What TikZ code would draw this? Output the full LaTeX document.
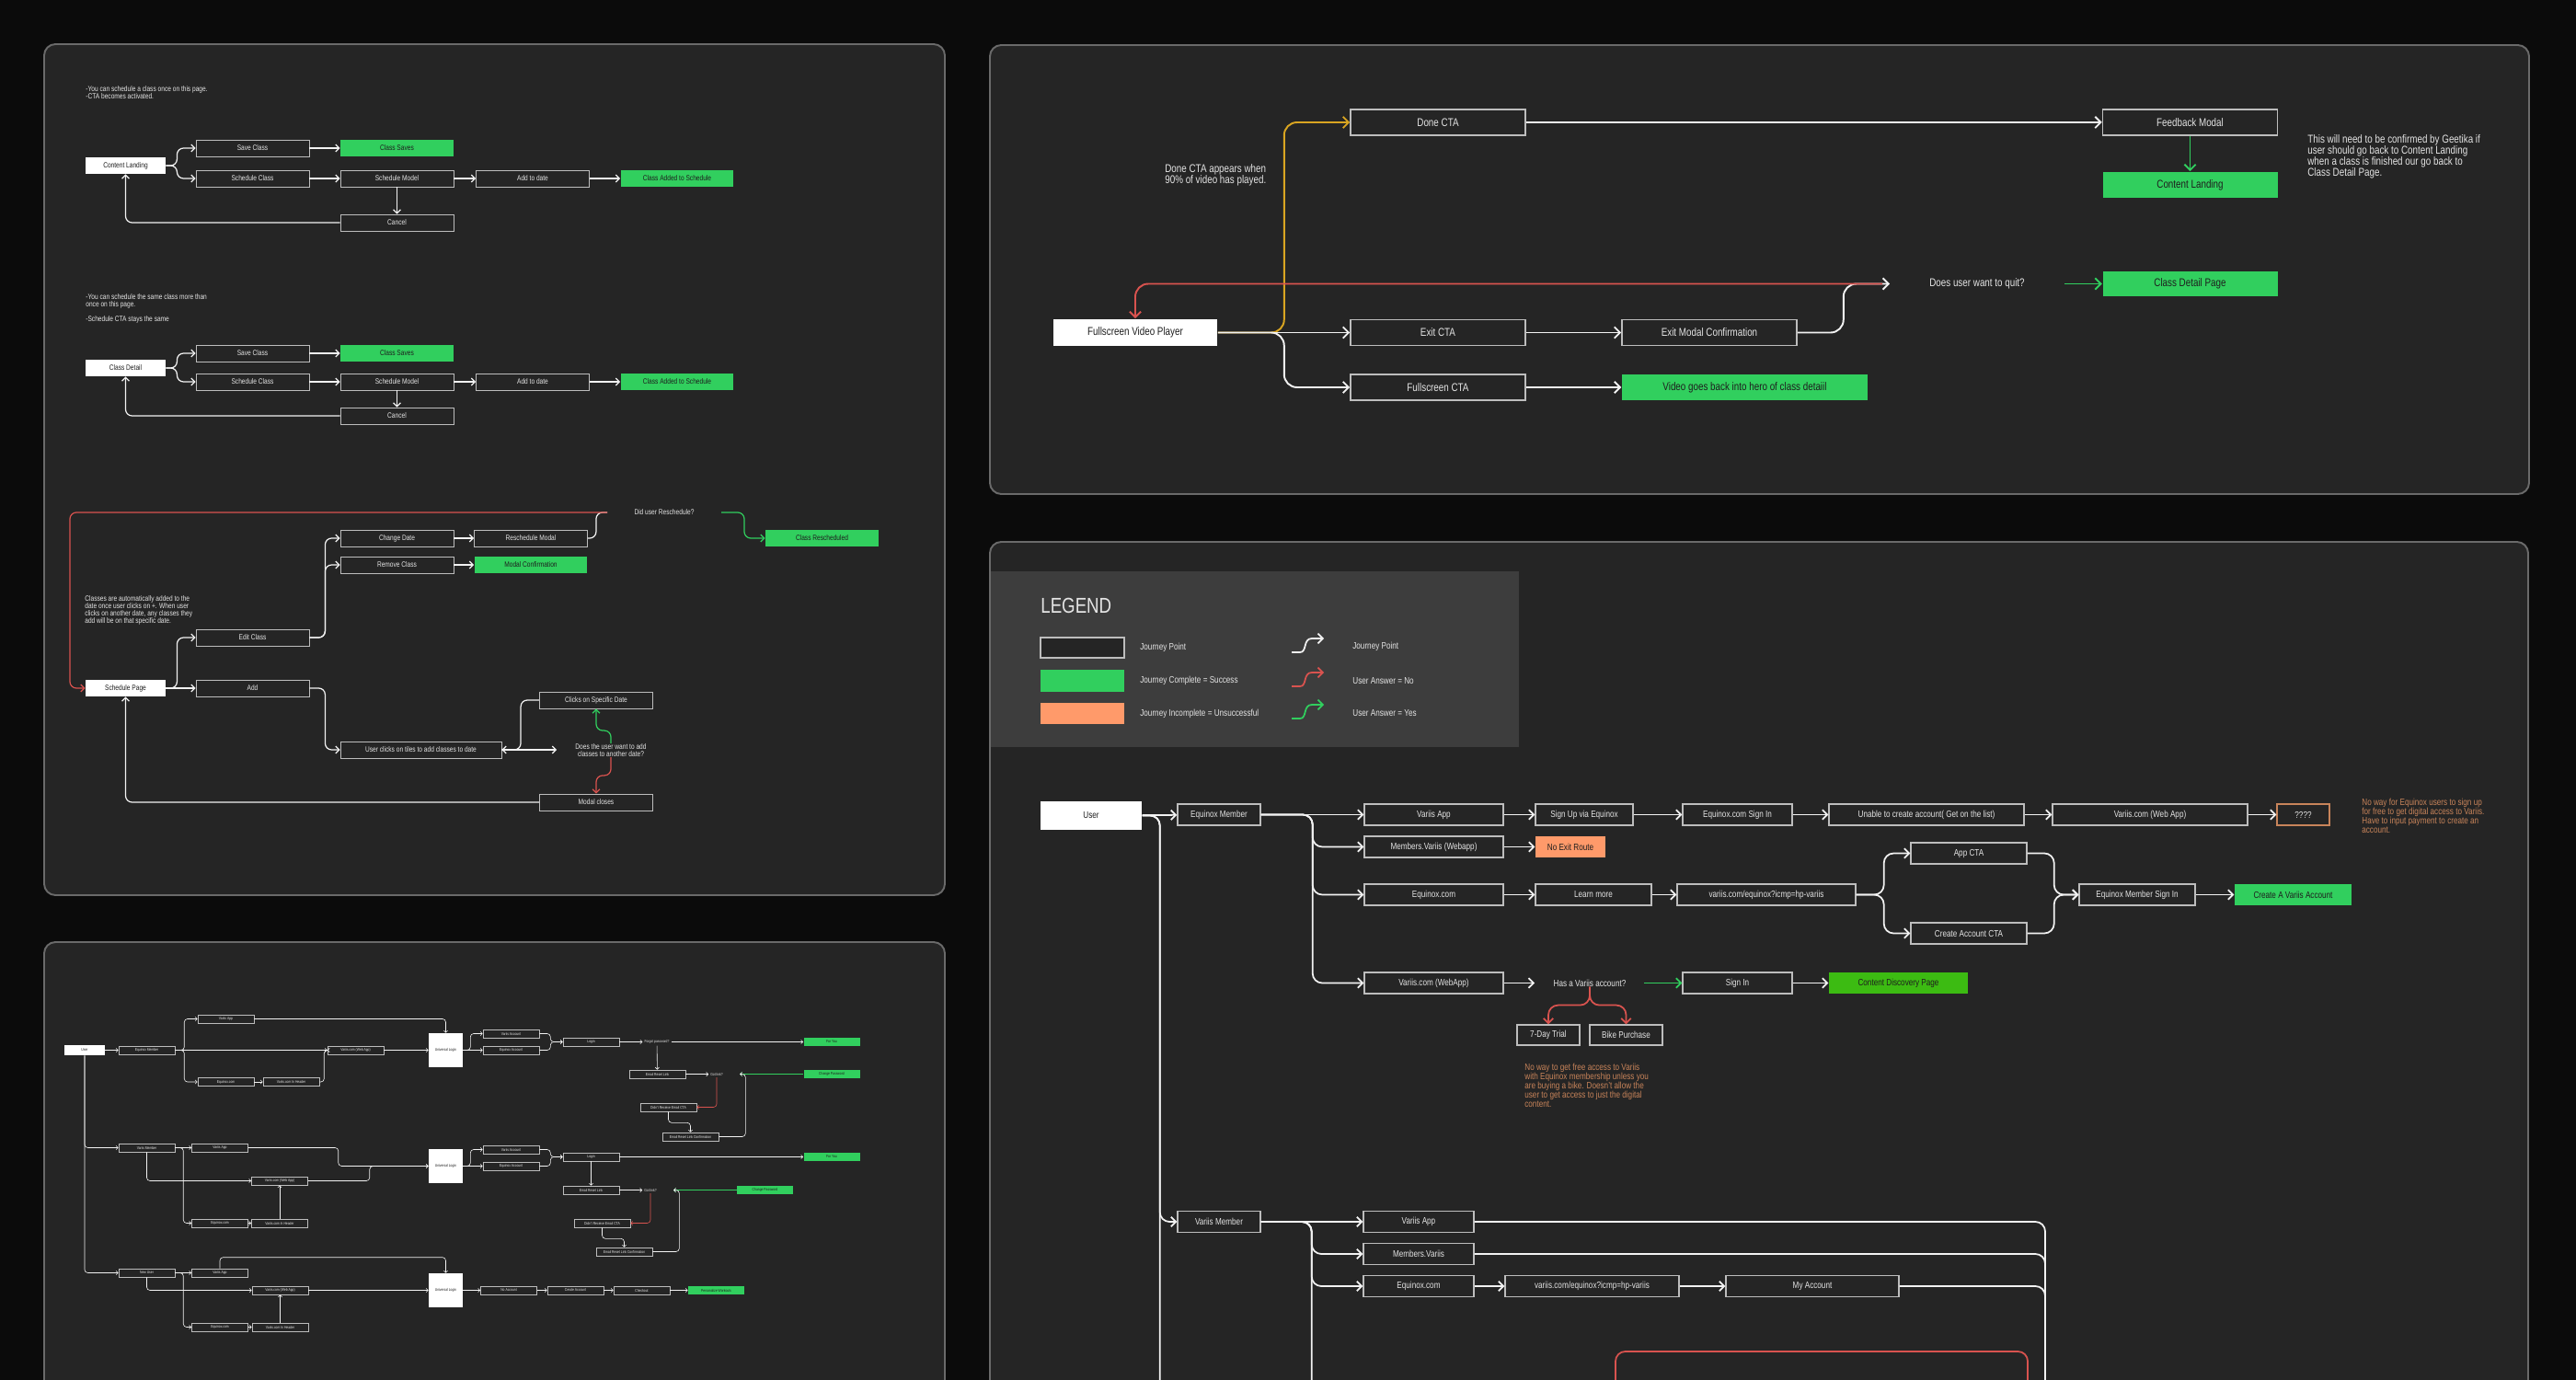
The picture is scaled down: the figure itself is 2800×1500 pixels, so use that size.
\documentclass[tikz,border=0pt]{standalone}
\usepackage{fontspec}
\setmainfont{Liberation Sans}[FakeStretch=0.8]
\usetikzlibrary{arrows.meta}

\definecolor{bgdark}{HTML}{0B0B0B}
\definecolor{panel}{HTML}{252525}
\definecolor{panelrim}{HTML}{6A6A6A}
\definecolor{legendbg}{HTML}{3D3D3D}
\definecolor{boxline}{HTML}{BDBDBD}
\definecolor{wirewhite}{HTML}{F2F2F2}
\definecolor{okgreen}{HTML}{31CF5E}
\definecolor{okgreentwo}{HTML}{3CBB12}
\definecolor{failorange}{HTML}{FF9A6A}
\definecolor{notebrown}{HTML}{C8845A}
\definecolor{nored}{HTML}{D9534F}
\definecolor{amber}{HTML}{D9A521}
\definecolor{inktext}{HTML}{E4E4E4}
\definecolor{darkink}{HTML}{1E1E1E}

\newcommand\fsA{\fontsize{4.7}{4.6}\selectfont}
\newcommand\fsB{\fontsize{2.4}{2.6}\selectfont}
\newcommand\fsC{\fontsize{7}{6.8}\selectfont}
\newcommand\fsD{\fontsize{5.8}{5.7}\selectfont}
\newcommand\fsTitle{\fontsize{13.3}{14}\selectfont}

\tikzset{
  journey/.style={draw=boxline, fill=panel, inner sep=0pt, text=inktext},
  success/.style={fill=okgreen, inner sep=0pt, text=darkink},
  whitebox/.style={fill=white, inner sep=0pt, text=darkink},
  failbox/.style={fill=failorange, inner sep=0pt, text=darkink},
  note/.style={inner sep=0pt, text=inktext, align=left},
  sizeA/.style={minimum width=2.46cm, minimum height=0.36cm, font=\fsA, line width=0.5pt},
  sizeB/.style={minimum width=1.22cm, minimum height=0.18cm, font=\fsB, line width=0.35pt},
  sizeC/.style={minimum width=3.8cm, minimum height=0.56cm, font=\fsC, line width=0.9pt},
  sizeD/.style={minimum width=3.02cm, minimum height=0.46cm, font=\fsD, line width=0.8pt},
  lineA/.style={draw=wirewhite, line width=0.7pt, rounded corners=4pt},
  wireA/.style={lineA, -{Straight Barb[length=2.2pt,width=4.4pt]}},
  lineB/.style={draw=wirewhite, line width=0.35pt, rounded corners=2pt},
  wireB/.style={lineB, -{Straight Barb[length=1.2pt,width=2.4pt]}},
  lineC/.style={draw=wirewhite, line width=1.1pt, rounded corners=8pt},
  wireC/.style={lineC, -{Straight Barb[length=3.5pt,width=7pt]}},
  lineD/.style={draw=wirewhite, line width=1pt, rounded corners=6pt},
  wireD/.style={lineD, -{Straight Barb[length=3pt,width=6pt]}}
}

\begin{document}
\begin{tikzpicture}[x=0.02cm, y=-0.02cm]
  \useasboundingbox (0,0) rectangle (2800,1500);
  % Page and the four panels
  \fill[bgdark] (0,0) rectangle (2800,1500);
  \clip (0,0) rectangle (2800,1500);
  \foreach \xa/\ya/\xb/\yb in {48/48/1027/973, 48/1024/1027/1560, 1076/49/2749/537, 1076/589/2748/1560}
    \draw[panelrim, fill=panel, line width=1.1pt, rounded corners=7pt] (\xa,\ya) rectangle (\xb,\yb);

  % ---------- Content Landing ----------
  \node[note, font=\fsA, anchor=north west] (aNoteOne) at (93,93) {-You can schedule a class once on this page.\\-CTA becomes activated.};
  \node[whitebox, sizeA, minimum width=1.74cm] (aCL) at (136.5,180) {Content Landing};
  \node[journey, sizeA] (aSave1) at (274.5,161) {Save Class};
  \node[success, sizeA] (aSaves1) at (431.5,161) {Class Saves};
  \node[journey, sizeA] (aSched1) at (274.5,194) {Schedule Class};
  \node[journey, sizeA] (aModal1) at (431.5,194) {Schedule Model};
  \node[journey, sizeA] (aDate1) at (579,194) {Add to date};
  \node[success, sizeA] (aAdded1) at (736,194) {Class Added to Schedule};
  \node[journey, sizeA] (aCancel1) at (431.5,242) {Cancel};

  % ---------- Class Detail ----------
  \node[note, font=\fsA, anchor=north west] (aNoteTwo) at (93,319) {-You can schedule the same class more than\\once on this page.\\[4.6pt]-Schedule CTA stays the same};
  \node[whitebox, sizeA, minimum width=1.74cm] (aCD) at (136.5,400) {Class Detail};
  \node[journey, sizeA] (aSave2) at (274.5,384) {Save Class};
  \node[success, sizeA] (aSaves2) at (431.5,384) {Class Saves};
  \node[journey, sizeA] (aSched2) at (274.5,415) {Schedule Class};
  \node[journey, sizeA] (aModal2) at (431.5,415) {Schedule Model};
  \node[journey, sizeA] (aDate2) at (579,415) {Add to date};
  \node[success, sizeA] (aAdded2) at (736,415) {Class Added to Schedule};
  \node[journey, sizeA] (aCancel2) at (431.5,452) {Cancel};

  \foreach \top/\sav/\sch/\can in {aCL/1/1/1, aCD/2/2/2} {
    \draw[wireA] (\top.east) -- ++(12,0) |- (aSave\sav.west);
    \draw[wireA] (\top.east) -- ++(12,0) |- (aSched\sch.west);
    \draw[wireA] (aCancel\can.west) -| (\top.south);
  }
  \foreach \p/\q in {aSave1/aSaves1, aSched1/aModal1, aModal1/aDate1, aDate1/aAdded1, aModal1/aCancel1,
                     aSave2/aSaves2, aSched2/aModal2, aModal2/aDate2, aDate2/aAdded2, aModal2/aCancel2}
    \draw[wireA] (\p) -- (\q);

  % ---------- Schedule Page ----------
  \node[note, font=\fsA] (aDid) at (722,557) {Did user Reschedule?};
  \coordinate (aDidIn) at (660,557);
  \coordinate (aDidOut) at (784,557);
  \node[success, sizeA] (aRescheduled) at (893.5,585) {Class Rescheduled};
  \node[journey, sizeA] (aChange) at (431.5,585) {Change Date};
  \node[journey, sizeA] (aRModal) at (577,585) {Reschedule Modal};
  \node[journey, sizeA] (aRemove) at (431.5,614) {Remove Class};
  \node[success, sizeA] (aConfirm) at (577,614) {Modal Confirmation};
  \node[note, font=\fsA, anchor=north west] (aNoteThree) at (92,647) {Classes are automatically added to the\\date once user clicks on +. When user\\clicks on another date, any classes they\\add will be on that specific date.};
  \node[journey, sizeA] (aEdit) at (274.5,693) {Edit Class};
  \node[whitebox, sizeA, minimum width=1.74cm] (aSP) at (136.5,748) {Schedule Page};
  \node[journey, sizeA] (aAdd) at (274.5,748) {Add};
  \node[journey, sizeA] (aSpecific) at (648,761) {Clicks on Specific Date};
  \node[journey, sizeA, minimum width=3.5cm] (aTiles) at (457.5,815) {User clicks on tiles to add classes to date};
  \node[note, font=\fsA, align=center] (aAnother) at (664,815.5) {Does the user want to add\\classes to another date?};
  \coordinate (aAnotherIn) at (605,815);
  \node[journey, sizeA] (aCloses) at (648,872) {Modal closes};

  \draw[wireA] (aSP.east) -- ++(12,0) |- (aEdit.west);
  \draw[wireA] (aSP) -- (aAdd);
  \draw[wireA] (aEdit.east) -- ++(17,0) |- (aChange.west);
  \draw[wireA] (aEdit.east) -- ++(17,0) |- (aRemove.west);
  \draw[wireA] (aChange) -- (aRModal);
  \draw[wireA] (aRemove) -- (aConfirm);
  \draw[lineA] (aRModal.east) -- ++(9,0) |- (aDidIn);
  \draw[wireA, draw=nored] (aDidIn) -- ++(-584,0) |- (aSP.west);
  \draw[wireA, draw=okgreen] (aDidOut) -- ++(25,0) |- (aRescheduled.west);
  \draw[wireA] (aAdd.east) -- ++(17,0) |- (aTiles.west);
  \draw[wireA] (aTiles.east) -- (aAnotherIn);
  \draw[wireA] (aSpecific.west) -- ++(-20,0) |- (aTiles.east);
  \draw[wireA, draw=okgreen] (aAnother.north) -- ++(0,-14) -| (aSpecific.south);
  \draw[wireA, draw=nored] (aAnother.south) -- ++(0,20) -| (aCloses.north);
  \draw[wireA] (aCloses.west) -| (aSP.south);

  % ---------- Login flows (small panel) ----------
  \node[whitebox, sizeB, minimum width=0.88cm, minimum height=0.22cm] (bUser) at (92,1141.5) {User};
  \node[journey, sizeB] (bEqM) at (159.5,1141.5) {Equinox Member};
  \node[journey, sizeB] (bVApp1) at (245.5,1107.5) {Variis App};
  \node[journey, sizeB] (bWeb1) at (386.5,1141.5) {Variis.com (Web App)};
  \node[journey, sizeB] (bEqc1) at (245.5,1176) {Equinox.com};
  \node[journey, sizeB] (bHdr1) at (316.5,1176) {Variis.com In Header};
  \node[whitebox, sizeB, minimum width=0.74cm, minimum height=0.74cm] (bUL1) at (484.5,1141.5) {Universal Login};
  \node[journey, sizeB] (bVAcc1) at (555.5,1123.5) {Variis Account};
  \node[journey, sizeB] (bEqAcc1) at (555.5,1141.5) {Equinox Account};
  \node[journey, sizeB] (bLogin1) at (642.5,1132.5) {Login};
  \node[note, font=\fsB, inner sep=1pt] (bForgot) at (714,1132.5) {Forgot password?};
  \node[success, sizeB] (bForYou1) at (904,1132.5) {For You};
  \node[journey, sizeB] (bReset1) at (714.5,1167.5) {Email Reset Link};
  \node[note, font=\fsB, inner sep=1pt] (bGot1) at (779,1167.5) {Got link?};
  \coordinate (bGotIn1) at (804,1167.5);
  \node[success, sizeB] (bChange1) at (904,1167.5) {Change Password};
  \node[journey, sizeB] (bDidnt1) at (726.5,1203.5) {Didn't Receive Email CTA};
  \node[journey, sizeB] (bConf1) at (750.5,1235.5) {Email Reset Link Confirmation};

  \node[journey, sizeB] (bVM) at (159.5,1247.5) {Variis Member};
  \node[journey, sizeB] (bVApp2) at (239,1247.5) {Variis App};
  \node[whitebox, sizeB, minimum width=0.74cm, minimum height=0.74cm] (bUL2) at (484.5,1267.5) {Universal Login};
  \node[journey, sizeB] (bVAcc2) at (555.5,1249.5) {Variis Account};
  \node[journey, sizeB] (bEqAcc2) at (555.5,1267.5) {Equinox Account};
  \node[journey, sizeB] (bLogin2) at (642.5,1257.5) {Login};
  \node[success, sizeB] (bForYou2) at (904,1257.5) {For You};
  \node[journey, sizeB] (bWeb2) at (304,1283.5) {Variis.com (Web App)};
  \node[journey, sizeB] (bReset2) at (642.5,1293.5) {Email Reset Link};
  \node[note, font=\fsB, inner sep=1pt] (bGot2) at (707,1293.5) {Got link?};
  \coordinate (bGotIn2) at (732,1293.5);
  \node[success, sizeB] (bChange2) at (831.5,1293.5) {Change Password};
  \node[journey, sizeB] (bEqc2) at (239,1329.5) {Equinox.com};
  \node[journey, sizeB] (bHdr2) at (304,1329.5) {Variis.com In Header};
  \node[journey, sizeB] (bDidnt2) at (654.5,1329.5) {Didn't Receive Email CTA};
  \node[journey, sizeB] (bConf2) at (678.5,1360.5) {Email Reset Link Confirmation};

  \node[journey, sizeB] (bNU) at (159.5,1383.5) {New User};
  \node[journey, sizeB] (bVApp3) at (239,1383.5) {Variis App};
  \node[whitebox, sizeB, minimum width=0.74cm, minimum height=0.74cm] (bUL3) at (484.5,1402.5) {Universal Login};
  \node[journey, sizeB] (bWeb3) at (304.5,1402.5) {Variis.com (Web App)};
  \node[journey, sizeB] (bNoAcc) at (553,1402.5) {No Account};
  \node[journey, sizeB] (bCreate) at (625.5,1402.5) {Create Account};
  \node[journey, sizeB] (bCheckout) at (697.5,1402.5) {Checkout};
  \node[success, sizeB] (bPersonal) at (778.5,1402.5) {Personalize Workouts};
  \node[journey, sizeB] (bEqc3) at (239,1442.5) {Equinox.com};
  \node[journey, sizeB] (bHdr3) at (304.5,1442.5) {Variis.com In Header};

  \draw[wireB] (bUser.south) |- (bVM.west);
  \draw[wireB] (bUser.south) |- (bNU.west);
  \draw[wireB] (bEqM.east) -- ++(10,0) |- (bVApp1.west);
  \draw[wireB] (bEqM.east) -- ++(10,0) |- (bEqc1.west);
  \draw[wireB] (bVApp1.east) -| (bUL1.north);
  \draw[wireB] (bHdr1.east) -- ++(5,0) |- (bWeb1.west);
  \draw[wireB] (bVM.east) -- ++(9,0) |- (bEqc2.west);
  \draw[wireB] (bVM.south) |- (bWeb2.west);
  \draw[wireB] (bVApp2.east) -- ++(98,0) |- (bUL2.west);
  \draw[wireB] (bWeb2.east) -- ++(67,0) |- (bUL2.west);
  \draw[wireB] (bNU.east) -- ++(9,0) |- (bEqc3.west);
  \draw[wireB] (bNU.south) |- (bWeb3.west);
  \draw[wireB] (bVApp3.north) -- ++(0,-12) -| (bUL3.north);
  \foreach \p/\q in {bUser/bEqM, bEqM/bWeb1, bWeb1/bUL1, bEqc1/bHdr1, bLogin1/bForgot, bForgot/bForYou1,
                     bForgot/bReset1, bReset1/bGot1, bVM/bVApp2, bEqc2/bHdr2, bHdr2/bWeb2, bLogin2/bForYou2,
                     bLogin2/bReset2, bReset2/bGot2, bNU/bVApp3, bWeb3/bUL3, bEqc3/bHdr3, bHdr3/bWeb3,
                     bUL3/bNoAcc, bNoAcc/bCreate, bCreate/bCheckout, bCheckout/bPersonal}
    \draw[wireB] (\p) -- (\q);
  \foreach \n in {1,2} {
    \draw[wireB] (bUL\n.east) -- ++(8,0) |- (bVAcc\n.west);
    \draw[wireB] (bUL\n) -- (bEqAcc\n);
    \draw[wireB] (bVAcc\n.east) -- ++(12,0) |- (bLogin\n.west);
    \draw[wireB] (bEqAcc\n.east) -- ++(12,0) |- (bLogin\n.west);
    \draw[wireB, draw=okgreen] (bChange\n.west) -- (bGotIn\n);
    \draw[wireB] (bConf\n.east) -- ++(29,0) |- (bGotIn\n);
    \draw[wireB, draw=nored] (bGot\n.south) |- (bDidnt\n.east);
    \draw[wireB] (bDidnt\n.south) -- ++(0,12) -| (bConf\n.north);
  }

  % ---------- Fullscreen video ----------
  \node[whitebox, sizeC, minimum width=3.56cm, minimum height=0.58cm] (cFVP) at (1234,361.5) {Fullscreen Video Player};
  \node[journey, sizeC] (cDone) at (1563,133) {Done CTA};
  \node[note, font=\fsC, anchor=north west] (cNoteDone) at (1266,178) {Done CTA appears when\\90\% of video has played.};
  \node[journey, sizeC] (cExit) at (1563,361.5) {Exit CTA};
  \node[journey, sizeC] (cFull) at (1563,421) {Fullscreen CTA};
  \node[journey, sizeC] (cExitModal) at (1858,361.5) {Exit Modal Confirmation};
  \node[success, sizeC, minimum width=5.34cm] (cVideo) at (1896.5,421) {Video goes back into hero of class detaiil};
  \node[journey, sizeC] (cFeedback) at (2380.5,133) {Feedback Modal};
  \node[success, sizeC] (cCL) at (2380.5,201) {Content Landing};
  \node[note, font=\fsC, anchor=north west] (cNoteGeetika) at (2508,146) {This will need to be confirmed by Geetika if\\user should go back to Content Landing\\when a class is finished our go back to\\Class Detail Page.};
  \node[note, font=\fsC] (cQuit) at (2149,308.5) {Does user want to quit?};
  \coordinate (cQuitIn) at (2054,308.5);
  \coordinate (cQuitRed) at (2046,308.5);
  \coordinate (cQuitOut) at (2244,308.5);
  \node[success, sizeC] (cCDP) at (2380.5,308.5) {Class Detail Page};

  \draw[wireC, draw=amber] (cFVP.east) -- ++(72,0) |- (cDone.west);
  \draw[wireC] (cFVP.east) -- ++(72,0) |- (cFull.west);
  \draw[wireC] (cFVP) -- (cExit);
  \draw[wireC] (cDone) -- (cFeedback);
  \draw[wireC, draw=okgreen] (cFeedback) -- (cCL);
  \draw[wireC] (cExit) -- (cExitModal);
  \draw[wireC] (cFull) -- (cVideo);
  \draw[wireC] (cExitModal.east) -- ++(50,0) |- (cQuitIn);
  \draw[wireC, draw=nored] (cQuitRed) -| (cFVP.north);
  \draw[wireC, draw=okgreen] (cQuitOut) -- (cCDP.west);

  % ---------- Legend ----------
  \fill[legendbg] (1077,621) rectangle (1651,812);
  \node[note, font=\fsTitle, anchor=west] (lgTitle) at (1131,658) {LEGEND};
  \node[journey, line width=0.8pt, minimum width=1.82cm, minimum height=0.44cm] (lgJourney) at (1176.5,704) {};
  \node[success, minimum width=1.82cm, minimum height=0.48cm] (lgSuccess) at (1176.5,740) {};
  \node[failbox, minimum width=1.82cm, minimum height=0.46cm] (lgFail) at (1176.5,775.5) {};
  \foreach \yy/\txt in {704/Journey Point, 740/Journey Complete = Success, 775.5/Journey Incomplete = Unsuccessful}
    \node[note, font=\fsD, anchor=west] at (1239,\yy) {\txt};
  \foreach \yy/\cc/\txt in {709/wirewhite/Journey Point, 746/nored/User Answer = No, 781/okgreen/User Answer = Yes} {
    \draw[\cc, line width=1pt, -{Straight Barb[length=3pt,width=6pt]}] (1404,\yy) -- (1413,\yy) .. controls (1421,\yy) and (1416,\yy-15) .. (1426,\yy-15) -- (1439,\yy-15);
    \node[note, font=\fsD, anchor=west] at (1470,\yy-6) {\txt};
  }

  % ---------- Account journeys ----------
  \node[whitebox, sizeD, minimum width=2.2cm, minimum height=0.62cm] (dUser) at (1186,886.5) {User};
  \node[journey, sizeD, minimum width=1.8cm] (dEqM) at (1325,885.5) {Equinox Member};
  \node[journey, sizeD] (dVApp) at (1558.5,885.5) {Variis App};
  \node[journey, sizeD, minimum width=2.12cm] (dSignUp) at (1722,885.5) {Sign Up via Equinox};
  \node[journey, sizeD, minimum width=2.38cm] (dEqSign) at (1888.5,885.5) {Equinox.com Sign In};
  \node[journey, sizeD, minimum width=4.24cm] (dUnable) at (2094,885.5) {Unable to create account( Get on the list)};
  \node[journey, sizeD, minimum width=4.24cm] (dWebApp) at (2337,885.5) {Variis.com (Web App)};
  \node[journey, sizeD, draw=notebrown, minimum width=1.14cm] (dQQ) at (2503.5,885.5) {????};
  \node[note, font=\fsD, text=notebrown, anchor=north west] (dNoteSignup) at (2567,868) {No way for Equinox users to sign up\\for free to get digital access to Variis.\\Have to input payment to create an\\account.};
  \node[journey, sizeD] (dMembers) at (1558.5,920.5) {Members.Variis (Webapp)};
  \node[failbox, sizeD, minimum width=1.52cm] (dNoExit) at (1707,920.5) {No Exit Route};
  \node[journey, sizeD] (dEqcom) at (1558.5,972.5) {Equinox.com};
  \node[journey, sizeD, minimum width=2.52cm] (dLearn) at (1732,972.5) {Learn more};
  \node[journey, sizeD, minimum width=3.88cm] (dIcmp) at (1920,972.5) {variis.com/equinox?icmp=hp-variis};
  \node[journey, sizeD, minimum width=2.52cm] (dAppCTA) at (2140,927.5) {App CTA};
  \node[journey, sizeD, minimum width=2.52cm] (dCreateCTA) at (2140,1014.5) {Create Account CTA};
  \node[journey, sizeD, minimum width=2.52cm] (dEqMSign) at (2323,972.5) {Equinox Member Sign In};
  \node[success, sizeD, minimum width=2.54cm] (dCreateVA) at (2492.5,972.5) {Create A Variis Account};
  \node[journey, sizeD] (dVweb) at (1558.5,1068.5) {Variis.com (WebApp)};
  \node[note, font=\fsD] (dHas) at (1728,1068.5) {Has a Variis account?};
  \coordinate (dHasIn) at (1668,1068.5);
  \coordinate (dHasOut) at (1787,1068.5);
  \node[journey, sizeD, minimum width=2.38cm] (dSignIn) at (1888.5,1068.5) {Sign In};
  \node[success, sizeD, fill=okgreentwo] (dCDP) at (2063.5,1068.5) {Content Discovery Page};
  \node[journey, sizeD, minimum width=1.36cm, minimum height=0.44cm] (dTrial) at (1683,1125) {7-Day Trial};
  \node[journey, sizeD, minimum width=1.58cm, minimum height=0.44cm] (dBike) at (1767.5,1125) {Bike Purchase};
  \node[note, font=\fsD, text=notebrown, anchor=north west] (dNoteBike) at (1657,1156) {No way to get free access to Variis\\with Equinox membership unless you\\are buying a bike. Doesn't allow the\\user to get access to just the digital\\content.};
  \node[journey, sizeD, minimum width=1.8cm] (dVM) at (1325,1328) {Variis Member};
  \node[journey, sizeD, minimum width=2.4cm] (dVApp2) at (1542,1328) {Variis App};
  \node[journey, sizeD, minimum width=2.4cm] (dMV) at (1542,1363) {Members.Variis};
  \node[journey, sizeD, minimum width=2.4cm] (dEqcom2) at (1542,1398) {Equinox.com};
  \node[journey, sizeD, minimum width=3.78cm] (dIcmp2) at (1730.5,1398) {variis.com/equinox?icmp=hp-variis};
  \node[journey, sizeD, minimum width=3.76cm] (dMyAcc) at (1970,1398) {My Account};
  \coordinate (dDown) at (2223,1560);
  \draw[nored, line width=1pt, rounded corners=6pt] (1756,1469) rectangle (2204,1560);

  \draw[lineD] (dUser.east) -- ++(19,0) -- ++(0,700);
  \draw[wireD] (dUser.east) -- ++(19,0) |- (dVM.west);
  \draw[lineD] (dVM.east) -- ++(55,0) -- ++(0,300);
  \foreach \q in {dMembers, dEqcom, dVweb}
    \draw[wireD] (dEqM.east) -- ++(56,0) |- (\q.west);
  \foreach \q in {dMV, dEqcom2}
    \draw[wireD] (dVM.east) -- ++(55,0) |- (\q.west);
  \foreach \q in {dAppCTA, dCreateCTA} {
    \draw[wireD] (dIcmp.east) -- ++(30,0) |- (\q.west);
    \draw[wireD] (\q.east) -- ++(29,0) |- (dEqMSign.west);
  }
  \foreach \p/\q in {dUser/dEqM, dEqM/dVApp, dVApp/dSignUp, dSignUp/dEqSign, dEqSign/dUnable, dUnable/dWebApp,
                     dWebApp/dQQ, dMembers/dNoExit, dEqcom/dLearn, dLearn/dIcmp, dEqMSign/dCreateVA,
                     dSignIn/dCDP, dVM/dVApp2, dEqcom2/dIcmp2, dIcmp2/dMyAcc}
    \draw[wireD] (\p) -- (\q);
  \draw[wireD] (dVweb.east) -- (dHasIn);
  \draw[wireD, draw=okgreen] (dHasOut) -- (dSignIn.west);
  \draw[wireD, draw=nored] (dHas.south) -- ++(0,20) -| (dTrial.north);
  \draw[wireD, draw=nored] (dHas.south) -- ++(0,20) -| (dBike.north);
  \foreach \p in {dVApp2, dMV, dMyAcc}
    \draw[lineD] (\p.east) -| (dDown);
\end{tikzpicture}
\end{document}
